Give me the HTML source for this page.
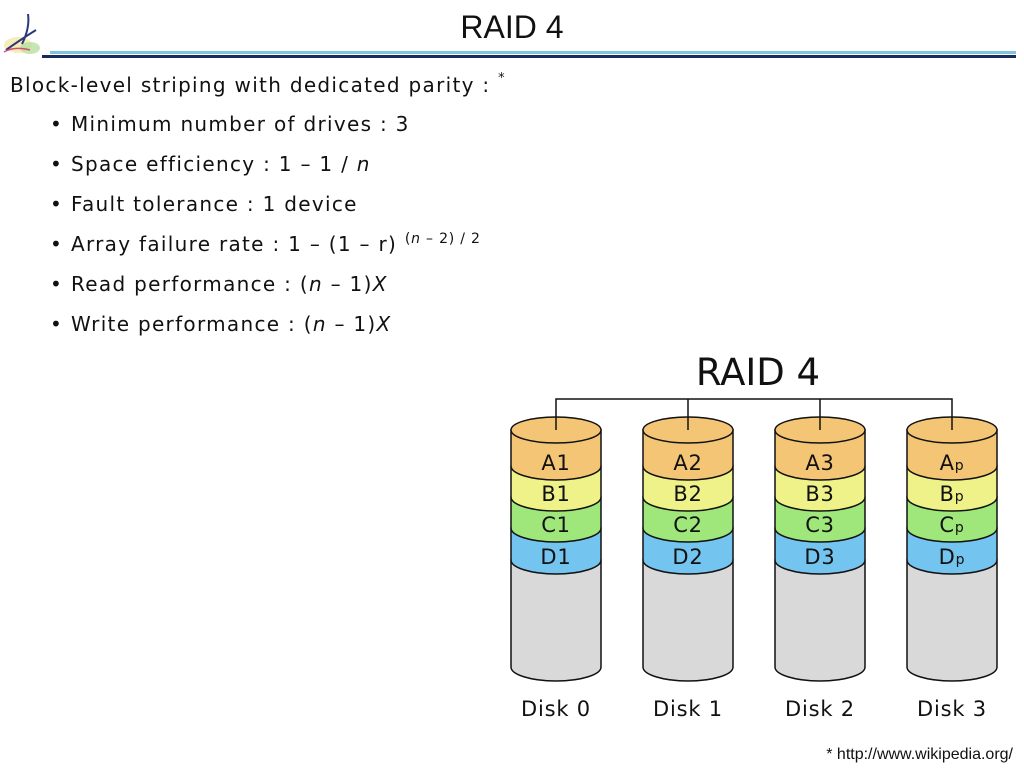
<!DOCTYPE html>
<html><head><meta charset="utf-8"><style>
html,body{margin:0;padding:0;background:#fff;}
svg{display:block}
</style></head><body>
<svg width="1024" height="768" viewBox="0 0 1024 768" xmlns="http://www.w3.org/2000/svg">
<!-- logo -->
<ellipse cx="18" cy="45" rx="14" ry="8" fill="#f6e7a8" opacity="0.8"/>
<ellipse cx="30" cy="48" rx="10" ry="6" fill="#b8e0a0" opacity="0.8"/>
<path d="M6 50 Q20 40 36 30 M28 14 Q30 28 22 44" stroke="#2b3a7a" stroke-width="2" fill="none"/>
<path d="M4 52 Q14 46 30 50" stroke="#d05070" stroke-width="1.5" fill="none"/>
<!-- header -->
<text x="512" y="38" font-family="Liberation Sans, sans-serif" font-size="32" text-anchor="middle" fill="#111">RAID 4</text>
<rect x="50" y="51" width="966" height="3" fill="#7fc4dc"/>
<rect x="42" y="55" width="974" height="3" fill="#1a2a5a"/>
<g font-family="DejaVu Sans, sans-serif" font-size="20" fill="#111" letter-spacing="1.3">
<text x="10" y="92">Block-level striping with dedicated parity : <tspan font-size="13" dy="-10">*</tspan></text>
<text x="50" y="131">•</text><text x="71" y="131">Minimum number of drives : 3</text>
<text x="50" y="171">•</text><text x="71" y="171">Space efficiency : 1 – 1 / <tspan font-style="italic">n</tspan></text>
<text x="50" y="211">•</text><text x="71" y="211">Fault tolerance : 1 device</text>
<text x="50" y="251">•</text><text x="71" y="251">Array failure rate : 1 – (1 – r) <tspan font-size="14" dy="-8" letter-spacing="0.8">(<tspan font-style="italic">n</tspan> – 2) / 2</tspan></text>
<text x="50" y="291">•</text><text x="71" y="291">Read performance : (<tspan font-style="italic">n</tspan> – 1)<tspan font-style="italic">X</tspan></text>
<text x="50" y="331">•</text><text x="71" y="331">Write performance : (<tspan font-style="italic">n</tspan> – 1)<tspan font-style="italic">X</tspan></text>
</g>
<text x="758" y="385" font-family="DejaVu Sans, sans-serif" font-size="37" text-anchor="middle" fill="#111">RAID 4</text>
<path d="M556 430 V399 H952 V430 M688 399 V430 M820 399 V430" stroke="#111" stroke-width="1.5" fill="none"/>
<defs>
<g id="cyl">
<path d="M-45 560 V667 A45 14 0 0 0 45 667 V560 Z" fill="#d9d9d9" stroke="#111" stroke-width="1.5"/>
<path d="M-45 528 V560 A45 14 0 0 0 45 560 V528 Z" fill="#73c4ee" stroke="#111" stroke-width="1.5"/>
<path d="M-45 497 V528 A45 14 0 0 0 45 528 V497 Z" fill="#9fe77a" stroke="#111" stroke-width="1.5"/>
<path d="M-45 466 V497 A45 14 0 0 0 45 497 V466 Z" fill="#eef289" stroke="#111" stroke-width="1.5"/>
<path d="M-45 430 V466 A45 14 0 0 0 45 466 V430 Z" fill="#f3c575" stroke="#111" stroke-width="1.5"/>
<ellipse cx="0" cy="430" rx="45" ry="13" fill="#f3c575" stroke="#111" stroke-width="1.5"/>
</g>
</defs>
<use href="#cyl" x="556"/><use href="#cyl" x="688"/><use href="#cyl" x="820"/><use href="#cyl" x="952"/>
<path d="M556 417 V430 M688 417 V430 M820 417 V430 M952 417 V430" stroke="#111" stroke-width="1.5"/>
<g font-family="DejaVu Sans, sans-serif" font-size="21" fill="#111" text-anchor="middle" letter-spacing="0.8">
<text x="556" y="470">A1</text><text x="556" y="501">B1</text><text x="556" y="532">C1</text><text x="556" y="564">D1</text>
<text x="688" y="470">A2</text><text x="688" y="501">B2</text><text x="688" y="532">C2</text><text x="688" y="564">D2</text>
<text x="820" y="470">A3</text><text x="820" y="501">B3</text><text x="820" y="532">C3</text><text x="820" y="564">D3</text>
<text x="952" y="470">A<tspan font-size="14">p</tspan></text><text x="952" y="501">B<tspan font-size="14">p</tspan></text><text x="952" y="532">C<tspan font-size="14">p</tspan></text><text x="952" y="564">D<tspan font-size="14">p</tspan></text>
<text x="556" y="716">Disk 0</text><text x="688" y="716">Disk 1</text><text x="820" y="716">Disk 2</text><text x="952" y="716">Disk 3</text>
</g>
<text x="1013" y="759" font-family="Liberation Sans, sans-serif" font-size="16" text-anchor="end" fill="#111">* http://www.wikipedia.org/</text>
</svg>
</body></html>
